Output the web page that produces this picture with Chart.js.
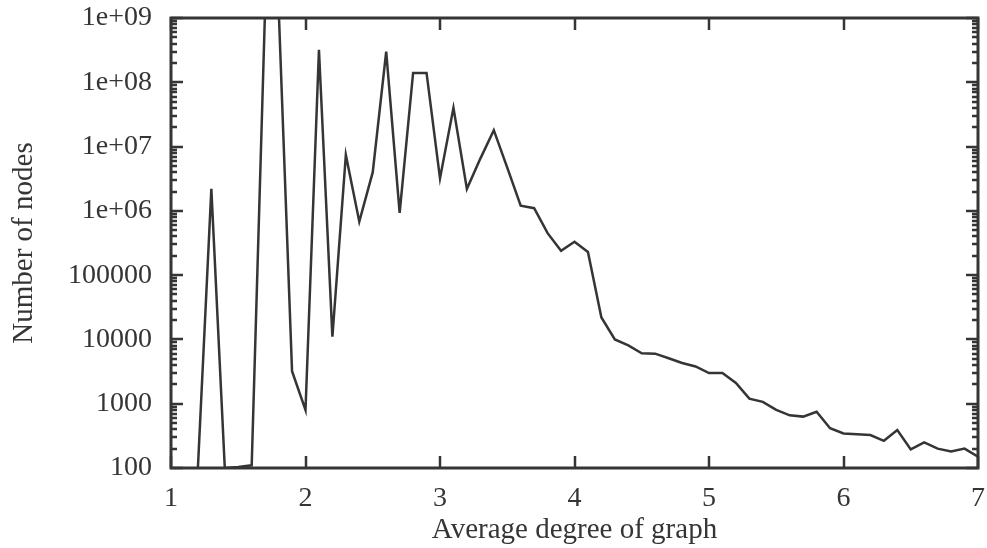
<!DOCTYPE html>
<html>
<head>
<meta charset="utf-8">
<script src="https://cdn.jsdelivr.net/npm/chart.js@4/dist/chart.umd.min.js"></script>
<style>
  html, body { margin: 0; padding: 0; background: #ffffff; }
  canvas { display: block; }
</style>
</head>
<body>
<canvas id="c" width="987" height="548"></canvas>
<script>
// ---- Data ----
const degrees = [1.2, 1.3, 1.4, 1.5, 1.6, 1.7, 1.8, 1.9, 2.0, 2.1, 2.2, 2.3, 2.4, 2.5, 2.6, 2.7, 2.8, 2.9, 3.0,
                 3.1, 3.2, 3.3, 3.4, 3.5, 3.6, 3.7, 3.8, 3.9, 4.0, 4.1, 4.2, 4.3, 4.4, 4.5, 4.6, 4.7, 4.8, 4.9, 5.0,
                 5.1, 5.2, 5.3, 5.4, 5.5, 5.6, 5.7, 5.8, 5.9, 6.0, 6.1, 6.2, 6.3, 6.4, 6.5, 6.6, 6.7, 6.8, 6.9, 7.0];
const nodes = [100, 2.2e6, 100, 104, 110, 1.5e9, 1.5e9, 3200, 800, 3.2e8, 11000, 7.4e6, 6.8e5, 4.0e6, 3.0e8, 9.3e5, 1.4e8, 1.4e8, 3.2e6,
               4.0e7, 2.2e6, 6.5e6, 1.8e7, 4.7e6, 1.2e6, 1.1e6, 4.5e5, 2.4e5, 3.3e5, 2.3e5, 2.2e4, 1.0e4, 8100, 6100, 6000, 5100, 4300, 3800, 3000,
               3000, 2100, 1200, 1070, 800, 660, 630, 750, 415, 345, 335, 325, 265, 390, 195, 250, 200, 180, 200, 150];
const xTickValues = [1, 2, 3, 4, 5, 6, 7];
const yTickValues = [1e2, 1e3, 1e4, 1e5, 1e6, 1e7, 1e8, 1e9];
const yTickLabels = ['100', '1000', '10000', '100000', '1e+06', '1e+07', '1e+08', '1e+09'];
const xTitle = 'Average degree of graph';
const yTitle = 'Number of nodes';

const INK = '#353535';
const FONT = 'Liberation Serif';

const framePlugin = {
  id: 'frame',
  afterDatasetsDraw(chart) {
    const {ctx, chartArea: a, scales} = chart;
    const xs = scales.x, ys = scales.y;
    ctx.save();
    ctx.strokeStyle = INK;
    ctx.lineWidth = 2.5;
    ctx.lineCap = 'butt';
    ctx.beginPath();
    xTickValues.forEach(v => {
      const px = Math.round(xs.getPixelForValue(v));
      ctx.moveTo(px, a.bottom); ctx.lineTo(px, a.bottom - 12);
      ctx.moveTo(px, a.top); ctx.lineTo(px, a.top + 12);
    });
    for (let e = 2; e <= 9; e++) {
      for (let m = 1; m <= 9; m++) {
        const v = m * Math.pow(10, e);
        if (v < 100 || v > 1e9) continue;
        const py = Math.round(ys.getPixelForValue(v));
        const len = m === 1 ? 12 : 6;
        ctx.moveTo(a.left, py); ctx.lineTo(a.left + len, py);
        ctx.moveTo(a.right, py); ctx.lineTo(a.right - len, py);
      }
    }
    ctx.stroke();
    ctx.lineWidth = 3;
    ctx.strokeRect(a.left, a.top, a.right - a.left, a.bottom - a.top);
    ctx.restore();
  }
};

const bgPlugin = {
  id: 'bg',
  beforeDraw(chart) {
    const {ctx} = chart;
    ctx.save();
    ctx.fillStyle = '#ffffff';
    ctx.fillRect(0, 0, chart.width, chart.height);
    ctx.restore();
  }
};

new Chart(document.getElementById('c'), {
  type: 'line',
  data: {
    datasets: [{
      data: degrees.map((d, i) => ({x: d, y: nodes[i]})),
      borderColor: INK,
      borderWidth: 2.5,
      pointRadius: 0,
      tension: 0,
      fill: false
    }]
  },
  options: {
    responsive: false,
    animation: false,
    devicePixelRatio: 1,
    layout: { padding: { top: 18, right: 9, left: 0, bottom: 0 } },
    plugins: { legend: { display: false }, tooltip: { enabled: false } },
    scales: {
      x: {
        type: 'linear',
        min: 1, max: 7,
        afterFit: s => { s.height = 80; s.paddingLeft = 0; s.paddingRight = 0; },
        afterBuildTicks: s => { s.ticks = xTickValues.map(v => ({value: v})); },
        grid: { display: false, drawTicks: false },
        border: { display: false },
        ticks: {
          padding: 14,
          color: INK,
          font: { family: FONT, size: 28 },
          callback: v => String(v),
          maxRotation: 0
        },
        title: {
          display: true, text: xTitle, color: INK,
          font: { family: FONT, size: 29 },
          padding: { top: 0, bottom: 0 }
        }
      },
      y: {
        type: 'logarithmic',
        min: 100, max: 1e9,
        afterFit: s => { s.width = 171; s.paddingTop = 0; s.paddingBottom = 0; },
        afterBuildTicks: s => { s.ticks = yTickValues.map(v => ({value: v})); },
        grid: { display: false, drawTicks: false },
        border: { display: false },
        ticks: {
          padding: 19,
          color: INK,
          font: { family: FONT, size: 28 },
          callback: (v, i) => yTickLabels[i]
        },
        title: {
          display: true, text: yTitle, color: INK,
          font: { family: FONT, size: 29 },
          padding: { top: 7, bottom: 0 }
        }
      }
    }
  },
  plugins: [bgPlugin, framePlugin]
});
</script>
</body>
</html>
